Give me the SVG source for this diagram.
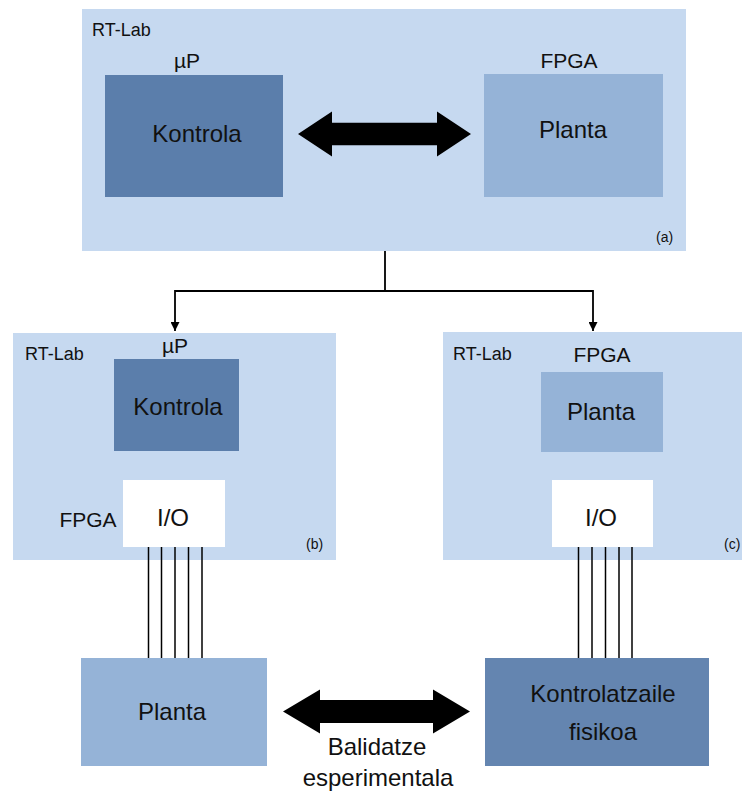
<svg xmlns="http://www.w3.org/2000/svg" width="742" height="796" viewBox="0 0 742 796">
<style>
  .cont { fill: #c6d9f0; }
  .dark { fill: #5b7eab; }
  .mid { fill: #95b3d7; }
  .ctrl { fill: #6485b0; }
  .io { fill: #ffffff; }
  text { font-family: "Liberation Sans", Arial, sans-serif; fill: #111111; }
  .lab { font-size: 18px; }
  .hd { font-size: 21px; text-anchor: middle; }
  .big { font-size: 24px; text-anchor: middle; }
  .sm { font-size: 14px; }
  .wire { stroke: #000; stroke-width: 1.5; fill: none; }
  .conn { stroke: #000; stroke-width: 1.8; fill: none; }
  .dbl { fill: #000; }
</style>
<defs>
  <marker id="tri" viewBox="0 0 10 10" refX="10" refY="5" markerWidth="5" markerHeight="5" markerUnits="strokeWidth" orient="auto">
    <path d="M0,0 L10,5 L0,10 Z" fill="#000"/>
  </marker>
</defs>

<g id="node-a">
  <rect class="cont" x="82" y="9" width="604" height="242"/>
  <text class="lab" x="92" y="36">RT-Lab</text>
  <text class="sm" x="656" y="242">(a)</text>
</g>
<g id="node-a-kontrola">
  <text class="hd" x="187" y="68">µP</text>
  <rect class="dark" x="105" y="75" width="178" height="122"/>
  <text class="big" x="197" y="142">Kontrola</text>
</g>
<g id="node-a-planta">
  <text class="hd" x="569" y="68">FPGA</text>
  <rect class="mid" x="484" y="74" width="179" height="123"/>
  <text class="big" x="573" y="138">Planta</text>
</g>

<g id="node-b">
  <rect class="cont" x="13" y="333" width="323" height="227"/>
  <text class="lab" x="25" y="360">RT-Lab</text>
  <text class="sm" x="306" y="549">(b)</text>
</g>
<g id="node-b-kontrola">
  <text class="hd" x="175" y="353">µP</text>
  <rect class="dark" x="114" y="359" width="125" height="92"/>
  <text class="big" x="178" y="415">Kontrola</text>
</g>
<g id="node-b-io">
  <text class="hd" x="88" y="527">FPGA</text>
  <rect class="io" x="123" y="480" width="102" height="67"/>
  <text class="big" x="173" y="526">I/O</text>
</g>

<g id="node-c">
  <rect class="cont" x="443" y="332" width="299" height="228"/>
  <text class="lab" x="453" y="360">RT-Lab</text>
  <text class="sm" x="724" y="549">(c)</text>
</g>
<g id="node-c-planta">
  <text class="hd" x="602" y="362">FPGA</text>
  <rect class="mid" x="541" y="372" width="122" height="80"/>
  <text class="big" x="601" y="420">Planta</text>
</g>
<g id="node-c-io">
  <rect class="io" x="552" y="480" width="101" height="67"/>
  <text class="big" x="601" y="526">I/O</text>
</g>

<g id="node-planta">
  <rect class="mid" x="81" y="658" width="186" height="108"/>
  <text class="big" x="172" y="720">Planta</text>
</g>
<g id="node-kontrolatzaile">
  <rect class="ctrl" x="485" y="658" width="224" height="108"/>
  <text class="big" x="603" y="702">Kontrolatzaile</text>
  <text class="big" x="603" y="740">fisikoa</text>
</g>

<g id="connectors">
  <polygon class="dbl" points="298,134 332,111.5 332,122.7 437,122.7 437,111.5 471,134 437,156.5 437,145.3 332,145.3 332,156.5"/>
  <polyline class="conn" points="385,251 385,291 175,291 175,331" marker-end="url(#tri)"/>
  <polyline class="conn" points="385,291 593,291 593,331" marker-end="url(#tri)"/>
  <g class="wire">
    <line x1="148.5" y1="547" x2="148.5" y2="658"/>
    <line x1="161.5" y1="547" x2="161.5" y2="658"/>
    <line x1="175" y1="547" x2="175" y2="658"/>
    <line x1="188.5" y1="547" x2="188.5" y2="658"/>
    <line x1="202" y1="547" x2="202" y2="658"/>
    <line x1="578.5" y1="547" x2="578.5" y2="658"/>
    <line x1="592" y1="547" x2="592" y2="658"/>
    <line x1="605.5" y1="547" x2="605.5" y2="658"/>
    <line x1="619" y1="547" x2="619" y2="658"/>
    <line x1="632" y1="547" x2="632" y2="658"/>
  </g>
  <polygon class="dbl" points="283,711.5 320,689.5 320,700 433,700 433,689.5 470,711.5 433,733.5 433,723 320,723 320,733.5"/>
  <text class="big" x="377" y="755">Balidatze</text>
  <text class="big" x="378" y="786">esperimentala</text>
</g>
</svg>
